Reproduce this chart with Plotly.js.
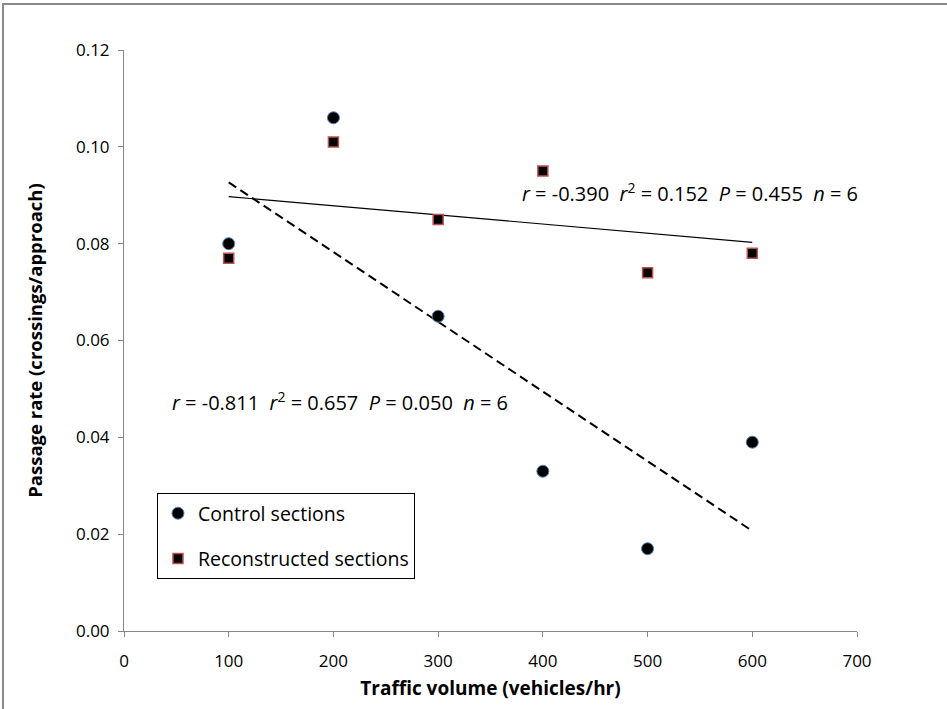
<!DOCTYPE html>
<html>
<head>
<meta charset="utf-8">
<script src="https://cdn.plot.ly/plotly-3.0.1.min.js"></script>
<style>
  html, body { margin: 0; padding: 0; background: #ffffff; }
  #frame { position: absolute; left: 2px; top: 3px; width: 960px; height: 720px;
           border-left: 2px solid #8a8a8a; border-top: 2px solid #8a8a8a; }
  #chart { position: absolute; left: 0; top: 0; width: 947px; height: 709px; }
</style>
</head>
<body>
<div id="frame"></div>
<div id="chart"></div>
<script>
// ---- data ----
const trafficVolume = [100, 200, 300, 400, 500, 600];
const controlRate = [0.080, 0.106, 0.065, 0.033, 0.017, 0.039];
const reconstructedRate = [0.077, 0.101, 0.085, 0.095, 0.074, 0.078];
const seriesNames = ['Control sections', 'Reconstructed sections'];
const statsControl = { r: '-0.811', r2: '0.657', P: '0.050', n: '6' };
const statsReconstructed = { r: '-0.390', r2: '0.152', P: '0.455', n: '6' };
const xTickValues = [0, 100, 200, 300, 400, 500, 600, 700];
const yTickValues = [0, 0.02, 0.04, 0.06, 0.08, 0.10, 0.12];

// least-squares fit line over the data range
function fitLine(xs, ys) {
  const n = xs.length;
  const mx = xs.reduce((a, b) => a + b, 0) / n;
  const my = ys.reduce((a, b) => a + b, 0) / n;
  let sxy = 0, sxx = 0;
  for (let i = 0; i < n; i++) { sxy += (xs[i] - mx) * (ys[i] - my); sxx += (xs[i] - mx) ** 2; }
  const b = sxy / sxx, a = my - b * mx;
  const x0 = Math.min(...xs), x1 = Math.max(...xs);
  return { x: [x0, x1], y: [a + b * x0, a + b * x1] };
}
const fitC = fitLine(trafficVolume, controlRate);
const fitR = fitLine(trafficVolume, reconstructedRate);

function statText(s) {
  const sp = '&nbsp;&nbsp;';
  return '<i>r</i> = ' + s.r + sp + '<i>r</i><sup>2</sup> = ' + s.r2 + sp +
         '<i>P</i> = ' + s.P + sp + '<i>n</i> = ' + s.n;
}

const FONT = 'Open Sans, Noto Sans, sans-serif';

const traces = [
  { x: fitR.x, y: fitR.y, mode: 'lines', type: 'scatter', showlegend: false, hoverinfo: 'skip',
    line: { color: '#000000', width: 1.2 } },
  { x: fitC.x, y: fitC.y, mode: 'lines', type: 'scatter', showlegend: false, hoverinfo: 'skip',
    line: { color: '#000000', width: 2, dash: '9px,5px' } },
  { x: trafficVolume, y: controlRate, mode: 'markers', type: 'scatter', name: seriesNames[0],
    legendgroup: 'a',
    marker: { symbol: 'circle', size: 12, color: '#000000', line: { color: '#4f81bd', width: 1 } } },
  { x: trafficVolume, y: reconstructedRate, mode: 'markers', type: 'scatter', name: seriesNames[1],
    legendgroup: 'b',
    marker: { symbol: 'square', size: 10, color: '#000000', line: { color: '#c0504d', width: 1.5 } } }
];

const axisCommon = {
  showgrid: false, zeroline: false, showline: true, linecolor: '#868686', linewidth: 1,
  ticks: 'outside', ticklen: 5, tickcolor: '#868686', tickwidth: 1,
  tickfont: { family: FONT, size: 17, color: '#000000' }
};

const layout = {
  width: 947, height: 709,
  margin: { l: 124, r: 90, t: 50, b: 78 },
  paper_bgcolor: 'rgba(0,0,0,0)', plot_bgcolor: 'rgba(0,0,0,0)',
  font: { family: FONT, color: '#000000' },
  xaxis: Object.assign({}, axisCommon, {
    range: [0, 700], tickvals: xTickValues, ticktext: xTickValues.map(String),
    ticklabelstandoff: 10,
    title: { text: '<b>Traffic volume (vehicles/hr)</b>', font: { family: FONT, size: 19, color: '#000000' }, standoff: 10 }
  }),
  yaxis: Object.assign({}, axisCommon, {
    range: [0, 0.12], tickvals: yTickValues, ticktext: yTickValues.map(v => v.toFixed(2)),
    ticklabelstandoff: 5,
    title: { text: '<b>Passage rate (crossings/approach)</b>', font: { family: FONT, size: 18.5, color: '#000000' }, standoff: 28 }
  }),
  legend: {
    x: 0.045, y: 0.2375, xanchor: 'left', yanchor: 'top',
    bordercolor: '#000000', borderwidth: 1, bgcolor: '#ffffff',
    font: { family: FONT, size: 19.5, color: '#000000' },
    traceorder: 'grouped', tracegroupgap: 17
  },
  annotations: [
    { x: 378, y: 0.0905, xref: 'x', yref: 'y', xanchor: 'left', yanchor: 'middle', showarrow: false,
      text: statText(statsReconstructed), font: { family: FONT, size: 20, color: '#000000' } },
    { x: 44, y: 0.0475, xref: 'x', yref: 'y', xanchor: 'left', yanchor: 'middle', showarrow: false,
      text: statText(statsControl), font: { family: FONT, size: 20, color: '#000000' } }
  ],
  showlegend: true
};

Plotly.newPlot('chart', traces, layout, { staticPlot: true, displayModeBar: false });
</script>
</body>
</html>
